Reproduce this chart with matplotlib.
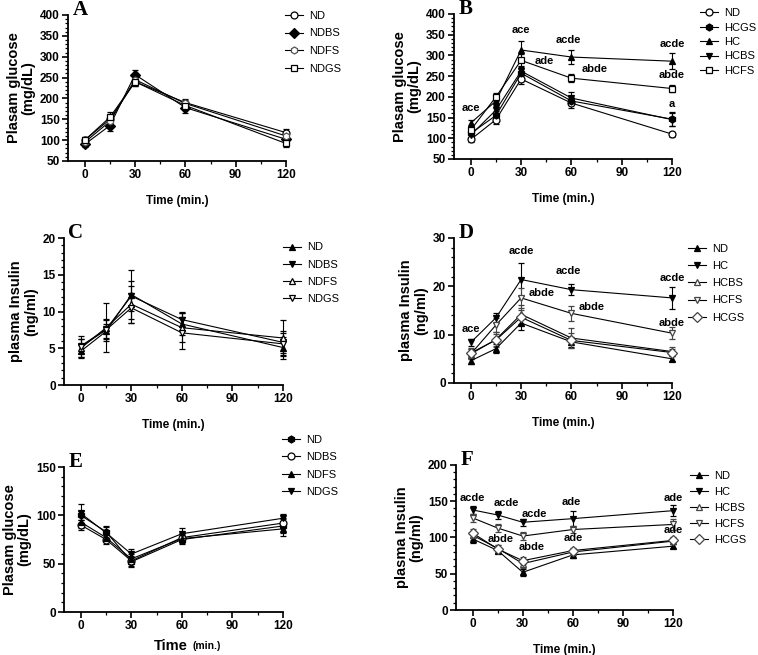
import numpy as np
import matplotlib.pyplot as plt
from matplotlib.ticker import AutoMinorLocator, MultipleLocator

plt.rcParams['font.family'] = ['Liberation Sans', 'DejaVu Sans']

# sampling times (min.)
times = [0, 15, 30, 60, 120]

# A - plasma glucose, normal diet groups
a_names = ['ND', 'NDBS', 'NDFS', 'NDGS']
a_vals = [[100, 150, 240, 190, 118],
          [90, 135, 257, 178, 102],
          [95, 145, 245, 188, 110],
          [100, 155, 240, 183, 92]]
a_errs = [[8, 12, 10, 8, 8],
          [7, 12, 12, 14, 8],
          [8, 14, 10, 8, 8],
          [8, 12, 10, 8, 8]]

# B - plasma glucose, high cholesterol groups
b_names = ['ND', 'HCGS', 'HC', 'HCBS', 'HCFS']
b_vals = [[97, 145, 243, 185, 110],
          [112, 155, 257, 190, 146],
          [137, 190, 313, 296, 286],
          [108, 168, 262, 197, 145],
          [120, 200, 288, 245, 220]]
b_errs = [[6, 10, 12, 12, 6],
          [8, 10, 12, 10, 17],
          [8, 10, 22, 16, 20],
          [8, 10, 12, 15, 15],
          [8, 10, 15, 10, 8]]
b_labels = [(0, 172, 'ace'), (30, 362, 'ace'), (44, 286, 'ade'), (58, 338, 'acde'),
            (74, 266, 'abde'), (120, 328, 'acde'), (120, 252, 'abde'), (120, 182, 'a')]

# C - plasma insulin, normal diet groups
c_names = ['ND', 'NDBS', 'NDFS', 'NDGS']
c_vals = [[4.6, 7.3, 12.3, 8.3, 5.1],
          [5.3, 7.6, 12.1, 8.9, 5.8],
          [5.0, 7.8, 11.0, 7.8, 6.4],
          [5.2, 7.5, 10.5, 7.1, 5.6]]
c_errs = [[0.8, 1.0, 3.3, 1.5, 1.5],
          [1.0, 1.2, 2.0, 1.0, 1.5],
          [1.2, 3.3, 2.5, 2.0, 2.4],
          [1.5, 1.5, 2.0, 2.2, 1.5]]

# D - plasma insulin, high cholesterol groups
d_names = ['ND', 'HC', 'HCBS', 'HCFS', 'HCGS']
d_vals = [[4.6, 7.1, 12.4, 8.5, 5.0],
          [8.4, 13.5, 21.4, 19.3, 17.6],
          [6.0, 9.0, 14.2, 9.3, 6.5],
          [6.0, 12.0, 17.6, 14.4, 10.3],
          [6.2, 8.9, 13.6, 8.8, 6.3]]
d_errs = [[0.6, 1.0, 1.5, 1.0, 0.5],
          [0.8, 1.0, 3.5, 1.2, 2.2],
          [1.0, 1.5, 2.0, 2.0, 1.0],
          [1.0, 1.5, 2.0, 1.5, 1.2],
          [1.0, 1.2, 1.5, 1.5, 0.8]]
d_labels = [(0, 11.2, 'ace'), (30, 27.2, 'acde'), (42, 18.6, 'abde'), (58, 23.2, 'acde'),
            (72, 15.7, 'abde'), (120, 21.7, 'acde'), (120, 12.4, 'abde')]

# E - plasma glucose (ITT), normal diet groups
e_names = ['ND', 'NDBS', 'NDFS', 'NDGS']
e_vals = [[100, 83, 52, 75, 89],
          [90, 75, 53, 77, 92],
          [93, 77, 55, 76, 86],
          [102, 82, 60, 81, 97]]
e_errs = [[5, 6, 5, 5, 7],
          [5, 5, 5, 5, 5],
          [6, 5, 5, 5, 7],
          [10, 6, 5, 6, 4]]

# F - plasma insulin, high cholesterol groups
f_names = ['ND', 'HC', 'HCBS', 'HCFS', 'HCGS']
f_vals = [[98, 82, 52, 76, 88],
          [138, 131, 121, 126, 137],
          [103, 85, 64, 80, 95],
          [127, 113, 102, 111, 118],
          [106, 84, 68, 82, 96]]
f_errs = [[5, 4, 5, 4, 3],
          [6, 6, 5, 10, 8],
          [6, 5, 6, 4, 4],
          [6, 5, 6, 5, 8],
          [6, 5, 5, 4, 5]]
f_labels = [(0, 154, 'acde'), (20, 147, 'acde'), (37, 132, 'acde'), (17, 98, 'abde'),
            (35, 87, 'abde'), (59, 149, 'ade'), (60, 99, 'ade'), (120, 155, 'ade'),
            (120, 110, 'ade')]

# marker styles (marker, face colour, edge colour)
styles = {
    'A': [('o', 'white', 'black'), ('D', 'black', 'black'), ('h', 'white', '#555555'), ('s', 'white', 'black')],
    'B': [('o', 'white', 'black'), ('h', 'black', 'black'), ('^', 'black', 'black'), ('v', 'black', 'black'), ('s', 'white', 'black')],
    'C': [('^', 'black', 'black'), ('v', 'black', 'black'), ('^', 'white', 'black'), ('v', 'white', 'black')],
    'D': [('^', 'black', 'black'), ('v', 'black', 'black'), ('^', 'white', '#444444'), ('v', 'white', '#444444'), ('D', 'white', '#444444')],
    'E': [('h', 'black', 'black'), ('o', 'white', 'black'), ('^', 'black', 'black'), ('v', 'black', 'black')],
    'F': [('^', 'black', 'black'), ('v', 'black', 'black'), ('^', 'white', '#444444'), ('v', 'white', '#444444'), ('D', 'white', '#444444')],
}

fig = plt.figure(figsize=(7.58, 6.55), dpi=100)

# letter, axes rect, names, values, errors, labels, ylim, y step, ylabel, legend anchor, legend spacing
panels = [
    ('A', [0.0897, 0.7542, 0.2876, 0.2229], a_names, a_vals, a_errs, [], (50, 400), 50,
     'Plasam glucose\n(mg/dL)', (0.995, 1.03), 0.7),
    ('B', [0.599, 0.7573, 0.2876, 0.2214], b_names, b_vals, b_errs, b_labels, (50, 400), 50,
     'Plasam glucose\n(mg/dL)', (1.128, 1.04), 0.4),
    ('C', [0.0844, 0.4122, 0.2889, 0.2244], c_names, c_vals, c_errs, [], (0, 20), 5,
     'plasma Insulin\n(ng/ml)', (1.0, 0.97), 0.65),
    ('D', [0.599, 0.4153, 0.2876, 0.2214], d_names, d_vals, d_errs, d_labels, (0, 30), 10,
     'plasma Insulin\n(ng/ml)', (1.073, 0.96), 0.65),
    ('E', [0.0844, 0.0656, 0.2889, 0.2214], e_names, e_vals, e_errs, [], (0, 150), 50,
     'Plasam glucose\n(mg/dL)', (0.995, 1.22), 0.65),
    ('F', [0.6016, 0.0687, 0.2863, 0.2214], f_names, f_vals, f_errs, f_labels, (0, 200), 50,
     'plasma Insulin\n(ng/ml)', (1.078, 0.96), 0.55),
]

for letter, rect, names, vals, errs, labels, ylim, ystep, ylabel, leg_pos, leg_sp in panels:
    ax = fig.add_axes(rect)
    handles = []
    for name, v, e, (mk, fc, ec) in zip(names, vals, errs, styles[letter]):
        eb = ax.errorbar(times, v, yerr=e, color='black', ecolor=ec, lw=0.8, elinewidth=0.8,
                         capsize=2.5, capthick=0.8, marker=mk, ms=5, mfc=fc, mec=ec,
                         mew=0.9, label=name, clip_on=False)
        handles.append(eb[0])  # line + marker only in the legend
    for t, y, s in labels:
        ax.text(t, y, s, ha='center', va='center', fontsize=8, fontweight='bold')

    ax.set_xlim(-10, 120)
    ax.set_ylim(*ylim)
    ax.spines['top'].set_visible(False)
    ax.spines['right'].set_visible(False)
    ax.spines['left'].set_linewidth(1.3)
    ax.spines['bottom'].set_linewidth(1.3)
    ax.set_xticks([0, 30, 60, 90, 120])
    ax.xaxis.set_minor_locator(MultipleLocator(15))
    ax.yaxis.set_major_locator(MultipleLocator(ystep))
    ax.yaxis.set_minor_locator(AutoMinorLocator(5))
    ax.tick_params(which='major', direction='out', length=4, width=1.2, labelsize=8.5, pad=2)
    ax.tick_params(which='minor', direction='out', length=2.5, width=0.9)
    for lab in ax.get_xticklabels() + ax.get_yticklabels():
        lab.set_fontweight('bold')

    ax.set_ylabel(ylabel, fontsize=10.5, fontweight='bold', labelpad=3, linespacing=1.1)
    if letter == 'E':
        ax.text(0.566, -0.234, 'Time', transform=ax.transAxes, ha='right', va='center',
                fontsize=10.5, fontweight='bold')
        ax.text(0.589, -0.234, '(min.)', transform=ax.transAxes, ha='left', va='center',
                fontsize=7.5, fontweight='bold')
    else:
        ax.set_xlabel('Time (min.)', fontsize=8.5, fontweight='bold', labelpad=10)

    ax.text(0.02, 1.0, letter, transform=ax.transAxes, ha='left', va='baseline',
            fontsize=15, fontweight='bold', family=['Liberation Serif', 'DejaVu Serif'])

    ax.legend(handles, names, loc='upper left', bbox_to_anchor=leg_pos, frameon=False,
              fontsize=8, borderpad=0, borderaxespad=0, handlelength=1.6,
              handletextpad=0.6, labelspacing=leg_sp)

fig.savefig('out.png', dpi=100)
